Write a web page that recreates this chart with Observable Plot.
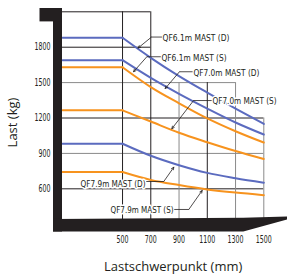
<!DOCTYPE html>
<html><head><meta charset="utf-8">
<script src="https://cdn.jsdelivr.net/npm/d3@7"></script>
<script src="https://cdn.jsdelivr.net/npm/@observablehq/plot@0.6"></script>
<style>body{margin:0;background:#fff} svg{display:block;background:#fff}</style>
</head><body><div id="chart"></div>
<script>
// ---- data ----
const loadCenters = [75, 500, 700, 900, 1100, 1300, 1500];          // mm
const seriesNames = ["QF6.1m MAST (D)", "QF6.1m MAST (S)", "QF7.0m MAST (D)", "QF7.0m MAST (S)", "QF7.9m MAST (D)", "QF7.9m MAST (S)"];
const seriesColors = ["#5b6bbf", "#5b6bbf", "#f7931e", "#f7931e", "#5b6bbf", "#f7931e"];
const capA = [1880, 1880, 1710, 1555, 1415, 1280, 1150];
const capB = [1690, 1690, 1540, 1405, 1280, 1162, 1060];
const capC = [1630, 1630, 1462, 1325, 1197, 1088, 992];
const capD = [1265, 1265, 1170, 1075, 995, 920, 852];
const capE = [982, 982, 880, 800, 735, 690, 652];
const capF = [742, 742, 675, 632, 595, 568, 546];
const capacities = [capA, capB, capC, capD, capE, capF];

const xTicks = [500, 700, 900, 1100, 1300, 1500];
const yTicks = [600, 900, 1200, 1500, 1800];
const hGrid = [2100, 1800, 1500, 1200, 900, 600];
const hGridEnd = [700, 700, 1300, 1500, 1500, 1500];
const hGridTone = ["#231f20", "#231f20", "#8a8a8a", "#231f20", "#8a8a8a", "#231f20"];
const vGridTop = [2100, 2100, 1500, 1500, 1500, 1200];
const vGridTone = ["#231f20", "#231f20", "#8a8a8a", "#231f20", "#8a8a8a", "#8a8a8a"];

// annotation labels: text position, leader start, elbow, arrow tip (data units)
const labelX = [783, 776, 1002, 1137, 203, 415];
const labelY = [1882, 1710, 1583, 1348, 637, 425];
const labelWidth = [67, 65, 66, 64, 65, 63];   // px, as measured on the reference
const leadStartX = [779, 771, 996, 1131, 668, 866];
const elbowX = [705, 672, 903, 1003, 792, 969];
const elbowY = [1886, 1719, 1592, 1348, 662, 425];
const tipX = [610, 578, 802, 849, 863, 1064];
const tipY = [1793, 1592, 1450, 1109, 783, 586];

const xDomain = [75, 1500];
const yDomain = [340, 2100];

// ---- build tables ----
const rows = capacities.map((arr, i) => arr.map((v, j) => ({series: seriesNames[i], x: loadCenters[j], y: v, j})));
const labels = seriesNames.map((t, i) => ({text: t, x: labelX[i], y: labelY[i], x0: leadStartX[i], ex: elbowX[i], ey: elbowY[i], tx: tipX[i], ty: tipY[i]}));
const hg = hGrid.map((y, i) => ({y, x2: hGridEnd[i], c: hGridTone[i]}));
const vg = xTicks.map((x, i) => ({x, y2: vGridTop[i], c: vGridTone[i]}));

const condensed = "'DejaVu Sans Condensed', 'Liberation Sans Narrow', sans-serif";
const xPerPx = (xDomain[1] - xDomain[0]) / (287 - 62 - 23.7);
const yPerPx = (yDomain[1] - yDomain[0]) / (219 - 11.3);
const frameLeft = xDomain[0] - 9 * xPerPx;
const frameRight = xDomain[1] + 23.7 * xPerPx;
const frameBottom = yDomain[0] - 12.5 * yPerPx;
const frameTop = yDomain[1] + 3.3 * yPerPx;

const marks = [];
hg.forEach(d => marks.push(Plot.ruleY([d], {y: "y", x1: xDomain[0], x2: "x2", stroke: d.c, strokeWidth: 1})));
vg.forEach(d => marks.push(Plot.ruleX([d], {x: "x", y1: yDomain[0], y2: "y2", stroke: d.c, strokeWidth: 1})));
rows.forEach((r, i) => {
  marks.push(Plot.line(r.filter(d => d.j <= 1), {x: "x", y: "y", stroke: seriesColors[i], strokeWidth: 2, strokeLinecap: "round"}));
  marks.push(Plot.line(r.filter(d => d.j >= 1), {x: "x", y: "y", stroke: seriesColors[i], strokeWidth: 2, curve: "monotone-x", strokeLinecap: "round"}));
});
marks.push(Plot.text(labels, {x: "x", y: "y", text: "text", textAnchor: "start", fontSize: 9.5, fontFamily: condensed, fill: "#231f20", stroke: "white", strokeWidth: 3}));
marks.push(Plot.link(labels, {x1: "x0", y1: "ey", x2: "ex", y2: "ey", stroke: "#231f20", strokeWidth: 0.8}));
marks.push(Plot.arrow(labels, {x1: "ex", y1: "ey", x2: "tx", y2: "ty", stroke: "#231f20", strokeWidth: 0.8, headLength: 5, headAngle: 50}));
// black frame
marks.push(Plot.rect([{}], {x1: frameLeft, x2: xDomain[0], y1: frameBottom, y2: frameTop, fill: "#231f20"}));
marks.push(Plot.rect([{}], {x1: xDomain[0] - 22.5 * xPerPx, x2: xDomain[0], y1: frameTop - 13.4 * yPerPx, y2: frameTop, fill: "#231f20"}));
const wedge = [
  {x: frameLeft, y1: frameBottom, y2: yDomain[0]},
  {x: xDomain[1] - 20 * xPerPx, y1: frameBottom, y2: yDomain[0] + 1.2 * yPerPx},
  {x: frameRight, y1: yDomain[0] - 0.5 * yPerPx, y2: yDomain[0] + 2.5 * yPerPx}
];
marks.push(Plot.areaY(wedge, {x: "x", y1: "y1", y2: "y2", fill: "#231f20"}));
// axis titles
marks.push(Plot.text(["Last (kg)"], {frameAnchor: "left", y: () => yDomain[0] + 97 * yPerPx, dx: -50, rotate: -90, textAnchor: "middle", lineAnchor: "middle", fontSize: 13, fontFamily: "'Open Sans', sans-serif", fill: "#231f20"}));
marks.push(Plot.text(["Lastschwerpunkt (mm)"], {frameAnchor: "bottom", dx: 10, dy: 47.7, lineAnchor: "middle", fontSize: 13, fontFamily: "'Open Sans', sans-serif", fill: "#231f20"}));

const chart = Plot.plot({
  width: 287, height: 279,
  marginLeft: 62, marginRight: 23.7, marginTop: 11.3, marginBottom: 60,
  style: {fontFamily: condensed, fontSize: "10px", color: "#231f20", background: "#fff"},
  x: {domain: xDomain, ticks: xTicks, tickSize: 0, tickPadding: 16, label: null, tickFormat: d => String(d)},
  y: {domain: yDomain, ticks: yTicks, tickSize: 0, tickPadding: 12, label: null, tickFormat: d => String(d)},
  marks
});
// condense text widths to the reference's narrow face
d3.select(chart).selectAll("text").each(function () {
  const t = this.textContent;
  const k = seriesNames.indexOf(t);
  if (k >= 0) { this.setAttribute("textLength", labelWidth[k]); this.setAttribute("lengthAdjust", "spacingAndGlyphs"); }
  else if (/^\d+$/.test(t)) { this.setAttribute("textLength", 4 * t.length); this.setAttribute("lengthAdjust", "spacingAndGlyphs"); }
});
document.getElementById("chart").appendChild(chart);
</script>
</body></html>
